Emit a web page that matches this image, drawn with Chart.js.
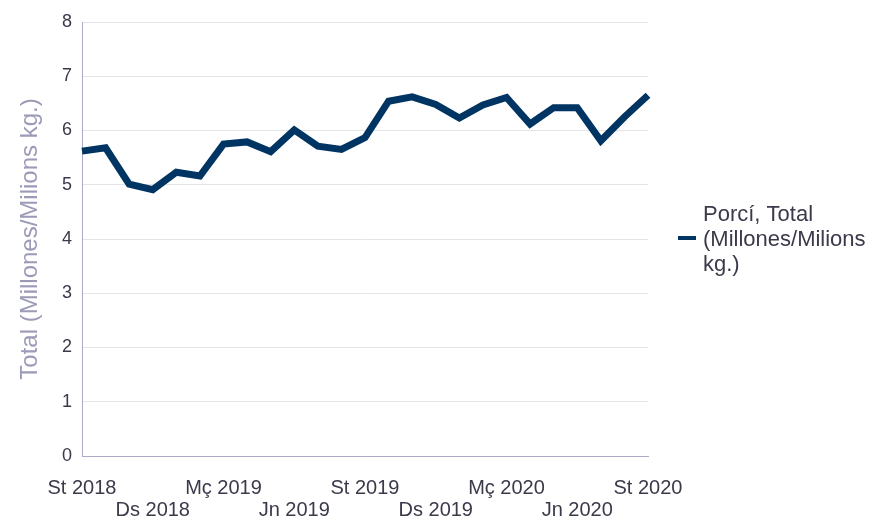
<!DOCTYPE html>
<html><head><meta charset="utf-8">
<script src="https://cdn.jsdelivr.net/npm/chart.js@4"></script>
<style>html,body{margin:0;padding:0;background:#fff}#wrap{width:886px;height:520px;position:relative}</style>
</head><body><div id="wrap"><canvas id="c" width="886" height="520"></canvas></div>
<script>
const months = ['St 2018','Oc 2018','Nv 2018','Ds 2018','Gn 2019','Fb 2019','Mç 2019','Ab 2019','Mg 2019','Jn 2019','Jl 2019','Ag 2019','St 2019','Oc 2019','Nv 2019','Ds 2019','Gn 2020','Fb 2020','Mç 2020','Ab 2020','Mg 2020','Jn 2020','Jl 2020','Ag 2020','St 2020'];
const porciTotal = [5.62,5.68,5.01,4.91,5.23,5.16,5.75,5.79,5.61,6.01,5.71,5.65,5.87,6.54,6.62,6.48,6.23,6.47,6.61,6.12,6.42,6.42,5.81,6.25,6.65];
const seriesLabel = ['Porcí, Total','(Millones/Milions','kg.)'];
const yTitle = 'Total (Millones/Milions kg.)';
const yTicks = [0,1,2,3,4,5,6,7,8];
const lineColor = '#003462';
const font = 'Liberation Sans, Arial, sans-serif';

const legendPlugin = {
  id:'sideLegend',
  afterDraw(chart){
    const ctx = chart.ctx;
    ctx.save();
    ctx.strokeStyle = lineColor; ctx.lineWidth = 4;
    ctx.beginPath(); ctx.moveTo(678,238); ctx.lineTo(696,238); ctx.stroke();
    ctx.fillStyle = '#3a3a4a'; ctx.font = '22px '+font; ctx.textBaseline='middle';
    seriesLabel.forEach((t,i)=>ctx.fillText(t,703,215+i*25));
    ctx.restore();
  }
};

new Chart(document.getElementById('c'),{
  type:'line',
  data:{labels:months,datasets:[{label:seriesLabel.join(' '),data:porciTotal,borderColor:lineColor,backgroundColor:lineColor,borderWidth:7,pointRadius:0,tension:0,borderJoinStyle:'miter',borderCapStyle:'butt'}]},
  options:{
    responsive:false,animation:false,
    layout:{padding:{left:0,right:238,top:22,bottom:0}},
    plugins:{legend:{display:false},tooltip:{enabled:false}},
    scales:{
      x:{
        offset:false,
        grid:{display:false,drawTicks:false},
        border:{color:'#a9a9c8',width:1},
        ticks:{autoSkip:false,maxRotation:0,minRotation:0,padding:21,color:'#3a3a4a',font:{size:20,family:font,lineHeight:1.1},
          callback(v,i){ if(i%3!==0) return null; const l=months[i]; return (i/3)%2===0?[l]:['',l]; }},
        afterFit(s){ s.height = 64; }
      },
      y:{
        min:0,max:8,
        afterBuildTicks(s){ s.ticks = yTicks.map(v=>({value:v})); },
        grid:{color:'#e3e3ea',lineWidth:1,drawTicks:false},
        border:{color:'#a9a9c8',width:1},
        ticks:{padding:10,color:'#3a3a4a',font:{size:18,family:font}},
        title:{display:true,text:yTitle,color:'#9b9bb8',font:{size:24,family:font},padding:{top:16,bottom:0}},
        afterFit(s){ s.width = 82; }
      }
    }
  },
  plugins:[legendPlugin]
});
</script></body></html>
